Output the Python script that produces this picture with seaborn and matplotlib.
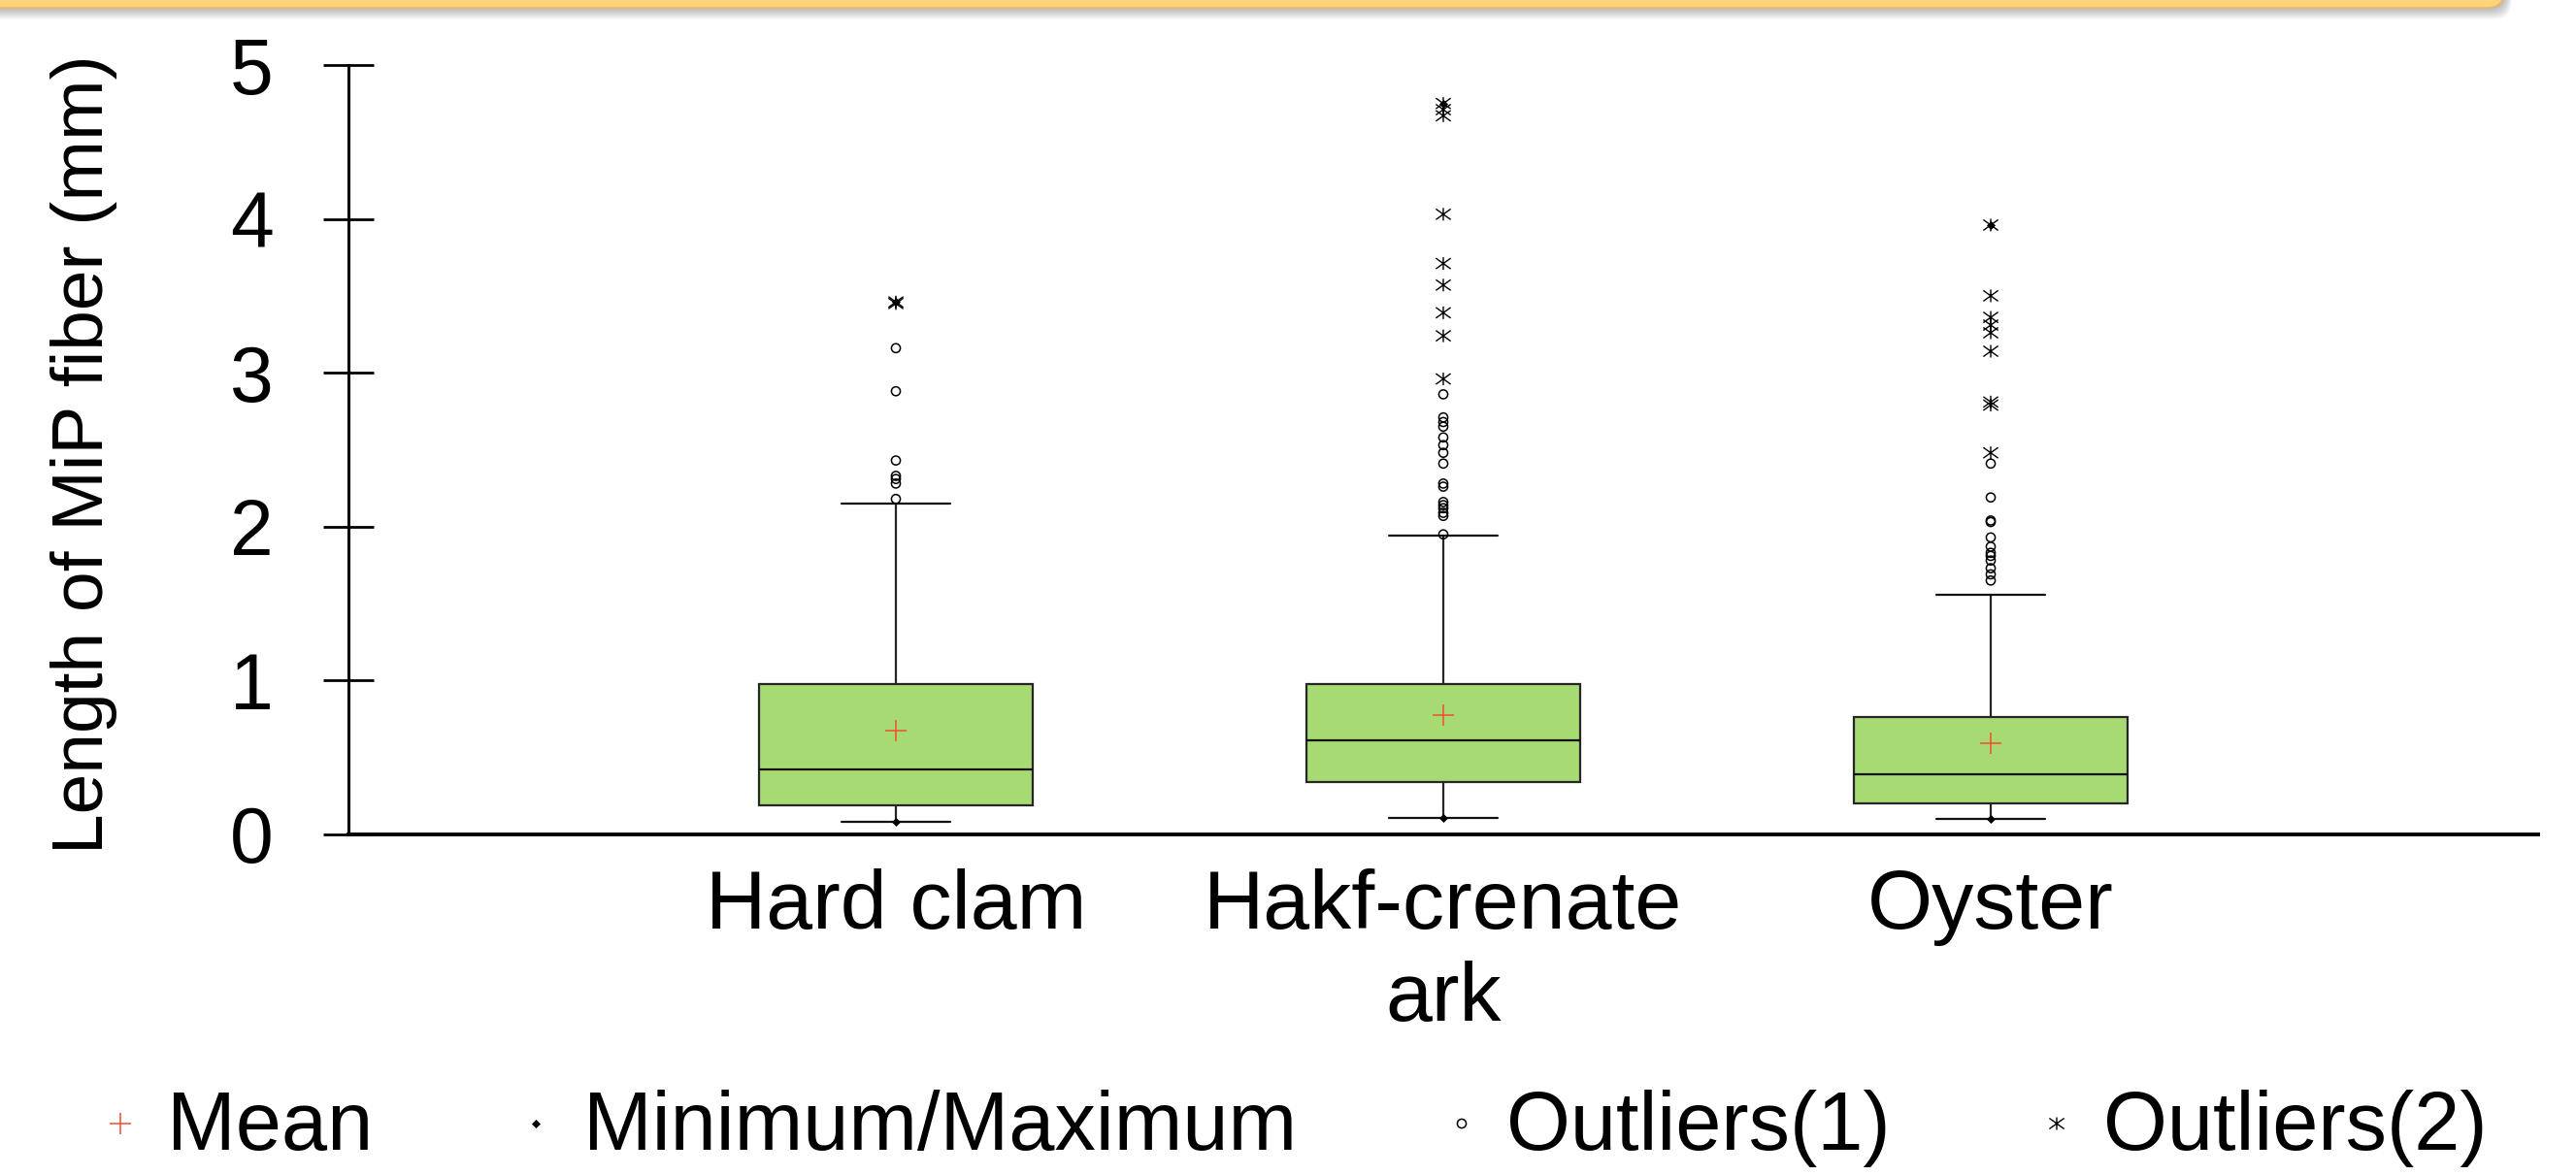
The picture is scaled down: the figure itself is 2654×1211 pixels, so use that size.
import numpy as np
import pandas as pd
import matplotlib
matplotlib.use("Agg")
import matplotlib.pyplot as plt
from matplotlib.patches import FancyBboxPatch
from matplotlib.path import Path
import seaborn as sns

# ---- data -------------------------------------------------------------
categories = ["Hard clam", "Hakf-crenate\nark", "Oyster"]
q1 = [0.19, 0.34, 0.20]
median = [0.42, 0.61, 0.39]
q3 = [0.98, 0.98, 0.76]
means = [0.675, 0.775, 0.59]
whisker_low = [0.08, 0.105, 0.10]
whisker_high = [2.15, 1.94, 1.555]
maxima = [3.46, 4.75, 3.96]

outliers_1 = [
    [2.18, 2.28, 2.31, 2.33, 2.43, 2.88, 3.16],
    [1.95, 2.07, 2.09, 2.12, 2.14, 2.16, 2.26, 2.28, 2.41, 2.48, 2.53,
     2.58, 2.65, 2.68, 2.71, 2.86],
    [1.65, 1.69, 1.73, 1.78, 1.81, 1.83, 1.87, 1.93, 2.03, 2.04, 2.19, 2.41],
]
outliers_2 = [
    [3.45, 3.46],
    [2.96, 3.24, 3.39, 3.57, 3.71, 4.03, 4.67, 4.71, 4.75],
    [2.48, 2.79, 2.81, 3.14, 3.26, 3.31, 3.36, 3.50, 3.96],
]

y_ticks = [0, 1, 2, 3, 4, 5]
y_label = "Length of MiP fiber (mm)"
legend_labels = ["Mean", "Minimum/Maximum", "Outliers(1)", "Outliers(2)"]

# ---- style ------------------------------------------------------------
sns.set_theme(style="white")
plt.rcParams["font.family"] = ["Liberation Sans", "DejaVu Sans"]

BOX_GREEN = "#A8DA74"
MEAN_RED = "#F0502D"

# six-armed star: a wide X crossed by a vertical stroke
STAR = Path(
    [(-1, -0.72), (1, 0.72), (-1, 0.72), (1, -0.72), (0, -0.85), (0, 0.85)],
    [Path.MOVETO, Path.LINETO, Path.MOVETO, Path.LINETO, Path.MOVETO,
     Path.LINETO],
)
STAR_SIZE = 11

W, H = 2654, 1211
fig = plt.figure(figsize=(W / 100, H / 100), dpi=100)
fig.patch.set_facecolor("white")

ax = fig.add_axes([359 / W, 1 - 860 / H, (2615 - 359) / W, (860 - 67) / H])
ax.patch.set_visible(False)

# boxes and whiskers from the summary statistics
stats = [
    dict(label=c, q1=a, med=m, q3=b, whislo=lo, whishi=hi, fliers=[])
    for c, a, m, b, lo, hi in zip(categories, q1, median, q3,
                                  whisker_low, whisker_high)
]
ax.bxp(
    stats, positions=range(len(categories)), widths=0.5, capwidths=0.2,
    patch_artist=True, showfliers=False,
    boxprops=dict(facecolor=BOX_GREEN, edgecolor="#262626", linewidth=1.6),
    whiskerprops=dict(color="#262626", linewidth=1.6),
    capprops=dict(color="#111111", linewidth=1.6),
    medianprops=dict(color="#111111", linewidth=1.6),
)

# long-form table of the point marks
rows = []
for c, vals in zip(categories, outliers_1):
    rows += [(c, v, "out1") for v in vals]
for c, vals in zip(categories, outliers_2):
    rows += [(c, v, "out2") for v in vals]
for c, v in zip(categories, means):
    rows.append((c, v, "mean"))
for c, lo, hi in zip(categories, whisker_low, maxima):
    rows += [(c, lo, "ext"), (c, hi, "ext")]
points = pd.DataFrame(rows, columns=["species", "length", "kind"])

common = dict(x="species", y="length", order=categories, jitter=False,
              ax=ax, zorder=5)
sns.stripplot(data=points[points.kind == "out1"], marker="o", size=6.6,
              facecolor="none", edgecolor="black", linewidth=1.1, **common)
sns.stripplot(data=points[points.kind == "out2"], marker=STAR,
              size=STAR_SIZE, facecolor="none", edgecolor="black",
              linewidth=1.0, **common)
sns.stripplot(data=points[points.kind == "mean"], marker="+", size=16,
              color=MEAN_RED, linewidth=1.1, **common)
sns.stripplot(data=points[points.kind == "ext"], marker="D", size=4.6,
              color="black", linewidth=0, **common)

# axes
ax.set_xlim(-1, 3)
ax.set_ylim(0, 5)
ax.set_yticks(y_ticks)
ax.set_yticklabels([str(t) for t in y_ticks])
ax.set_xticks(range(len(categories)))
ax.set_xticklabels(categories, fontsize=62, linespacing=1.25)
ax.set_xlabel("")
ax.set_ylabel("")
for side in ("top", "right"):
    ax.spines[side].set_visible(False)
ax.spines["left"].set_linewidth(2.2)
ax.spines["bottom"].set_linewidth(2.8)
ax.spines["left"].set_color("black")
ax.spines["bottom"].set_color("black")
ax.tick_params(axis="y", direction="inout", length=37.5, width=2.0,
               pad=37, labelsize=58, colors="black", left=True)
ax.tick_params(axis="x", length=0, pad=25, colors="black")

fig.text(87 / W, 1 - 468 / H, y_label, rotation=90, ha="center",
         va="center", fontsize=54, color="black")

# ---- overlay: slide banner and legend row ----------------------------
deco = fig.add_axes([0, 0, 1, 1])
deco.set_xlim(0, W)
deco.set_ylim(H, 0)
deco.axis("off")
deco.patch.set_visible(False)

for i in range(10):
    deco.add_patch(FancyBboxPatch(
        (-40, -40), 2620 + i * 0.8, 48 + i * 1.3,
        boxstyle="round,pad=0,rounding_size=18",
        facecolor="#555555", edgecolor="none", alpha=0.05))
deco.add_patch(FancyBboxPatch(
    (-40, -40), 2620, 48, boxstyle="round,pad=0,rounding_size=18",
    facecolor="#FDD47C", edgecolor="#EDB862", linewidth=1.2))

legend_y = 1158
text_base = 1185
mark_x = [124, 552, 1506, 2119]
text_x = [172, 601, 1552, 2167]
deco.scatter([mark_x[0]], [legend_y], marker="+", s=16 ** 2,
             color=MEAN_RED, linewidths=1.1)
deco.scatter([mark_x[1]], [legend_y], marker="D", s=4.6 ** 2,
             color="black", linewidths=0)
deco.scatter([mark_x[2]], [legend_y], marker="o", s=6.6 ** 2,
             facecolors="none", edgecolors="black", linewidths=1.1)
deco.scatter([mark_x[3]], [legend_y], marker=STAR, s=STAR_SIZE ** 2,
             facecolors="none", edgecolors="black", linewidths=1.0)
for x, lab in zip(text_x, legend_labels):
    deco.text(x, text_base, lab, fontsize=61, ha="left", va="baseline",
              color="black")

fig.savefig("out.png", dpi=100, facecolor="white")
